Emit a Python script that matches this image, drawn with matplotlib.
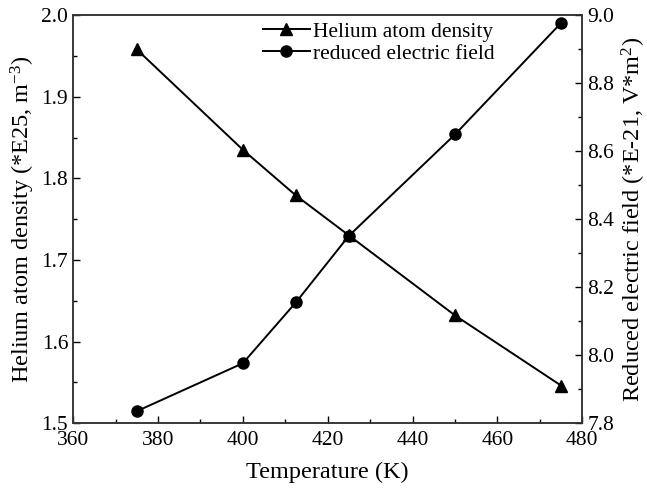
import matplotlib
matplotlib.use("Agg")
import matplotlib.pyplot as plt
from matplotlib.ticker import MultipleLocator, AutoMinorLocator

plt.rcParams['font.family'] = ['Liberation Serif', 'DejaVu Serif']
plt.rcParams['mathtext.fontset'] = 'custom'
plt.rcParams['mathtext.rm'] = 'Liberation Serif'
plt.rcParams['mathtext.it'] = 'Liberation Serif:italic'

# data
temperature = [375, 400, 412.5, 425, 450, 475]
helium_density = [1.958, 1.835, 1.779, 1.730, 1.632, 1.546]
reduced_field = [7.835, 7.976, 8.155, 8.351, 8.649, 8.977]

fig = plt.figure(figsize=(6.47, 4.88), dpi=100)
ax = fig.add_axes([0.113, 0.133, 0.787, 0.836])
ax2 = ax.twinx()

l1, = ax.plot(temperature, helium_density, color='black', lw=1.4,
              marker='^', markersize=9, label='Helium atom density')
l2, = ax2.plot(temperature, reduced_field, color='black', lw=1.4,
               marker='o', markersize=8, label='reduced electric field')

ax.set_xlim(360, 480)
ax.set_ylim(1.5, 2.0)
ax2.set_ylim(7.8, 9.0)

ax.xaxis.set_major_locator(MultipleLocator(20))
ax.xaxis.set_minor_locator(AutoMinorLocator(2))
ax.yaxis.set_major_locator(MultipleLocator(0.1))
ax.yaxis.set_minor_locator(AutoMinorLocator(2))
ax2.yaxis.set_major_locator(MultipleLocator(0.2))
ax2.yaxis.set_minor_locator(AutoMinorLocator(2))

ax.tick_params(axis='both', which='both', direction='in', labelsize=15.5, top=False, right=False)
ax.tick_params(which='major', length=5, width=1)
ax.tick_params(which='minor', length=3, width=1)
ax.tick_params(axis='x', pad=6)
ax2.tick_params(axis='y', which='both', direction='in', labelsize=15.5)
ax2.tick_params(which='major', length=5, width=1)
ax2.tick_params(which='minor', length=3, width=1)

for a in (ax, ax2):
    for s in a.spines.values():
        s.set_linewidth(1.1)
        s.set_color('#333333')

ax.set_xlabel('Temperature (K)', fontsize=17.5, labelpad=8)
ax.set_ylabel(r'Helium atom density (*E25, m$^{\mathrm{-3}}$)', fontsize=17.5, labelpad=3)
ax2.set_ylabel(r'Reduced electric field (*E-21, V*m$^{\mathrm{2}}$)', fontsize=17.5, labelpad=4)

ax.legend(handles=[l1, l2], loc='upper right', bbox_to_anchor=(0.853, 1.015),
          frameon=False, fontsize=15.4, handlelength=2.2, handletextpad=0.15,
          labelspacing=0.1, borderaxespad=0.2)

fig.savefig('out.png', dpi=100)
